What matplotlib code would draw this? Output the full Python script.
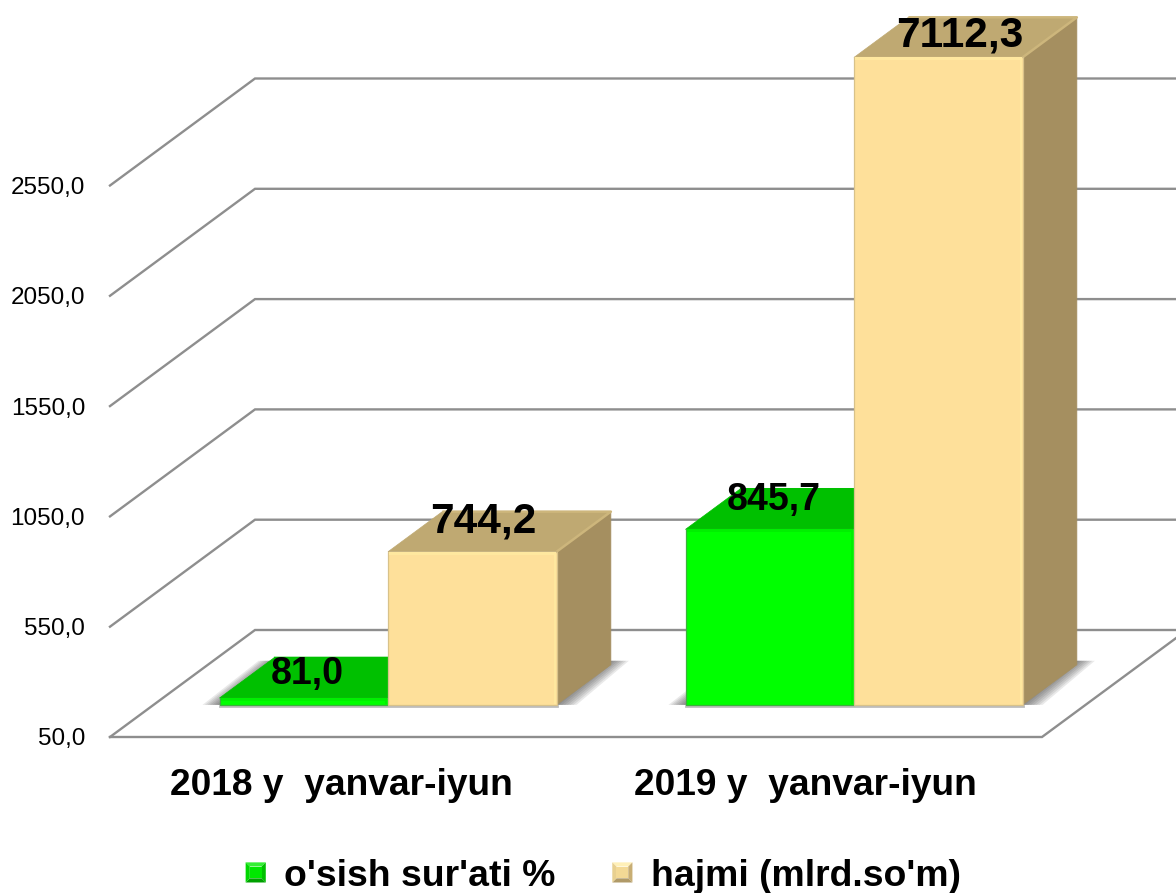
import matplotlib
matplotlib.use("Agg")
import matplotlib.pyplot as plt
from matplotlib.legend_handler import HandlerBase
from matplotlib.patches import Patch, Polygon

plt.rcParams['font.family'] = ['Liberation Sans', 'DejaVu Sans']

# ---- data ----
categories = ["2018 y  yanvar-iyun", "2019 y  yanvar-iyun"]
growth_rate = [81.0, 845.7]
volume = [744.2, 7112.3]
growth_labels = ["81,0", "845,7"]
volume_labels = ["744,2", "7112,3"]
y_ticks = [50, 550, 1050, 1550, 2050, 2550]
y_tick_labels = ["50,0", "550,0", "1050,0", "1550,0", "2050,0", "2550,0"]
series_names = ["o'sish sur'ati %", "hajmi (mlrd.so'm)"]

# ---- layout ----
W, H = 1176, 893
X0, X1 = 110, 1042           # floor front edge, px
Y0 = 737                     # floor front edge, px
PX_PER_UNIT = 0.2206
Y_MIN, Y_MAX = 50, 3050
BAR_CLIP = 2985              # the value axis cuts taller bars here
PX_PER_CAT = (X1 - X0) / 2
DEPTH_DX = 145 / PX_PER_CAT  # full floor depth in x data units
DEPTH_DY = 107 / PX_PER_UNIT # full floor depth in y data units
BAR_FRONT, BAR_BACK = 0.30, 0.675
BAR_W = 168.5 / PX_PER_CAT
GROUP_SHIFT = 1.5 / PX_PER_CAT
px = 1 / PX_PER_CAT
py = 1 / PX_PER_UNIT
XTICK_SHIFT_PX = (-1.5, -3.5)

# px offsets of the value labels from the top centre of each bar's front face
growth_offsets = [(3, 24), (4, 29)]
volume_offsets = [(11, 30), (22, 22)]

GREEN = dict(front="#00FF00", top="#00C000", side="#00A000", band="#00F000", edge="#3DB03D", rim="#00C000")
TAN = dict(front="#FEE09A", top="#BFA972", side="#A58F60", band="#FFE89F", edge="#D8C28A", rim="#CDB67C")
GRID = "#8E8E8E"

fig = plt.figure(figsize=(W / 100, H / 100), dpi=100, facecolor="white")
ax = fig.add_axes([X0 / W, (H - Y0) / H, (X1 - X0) / W, (Y_MAX - Y_MIN) * PX_PER_UNIT / H])
ax.set_xlim(-0.5, 1.5)
ax.set_ylim(Y_MIN, Y_MAX)
ax.patch.set_visible(False)
for s in ax.spines.values():
    s.set_visible(False)


def proj(x, v, d):
    """Floor/depth projection: data point at fractional depth d."""
    return x + d * DEPTH_DX, v + d * DEPTH_DY


# ---- grid, back wall and floor ----
back_right = 1.5 + DEPTH_DX
for v in y_ticks:
    xs = [-0.5, -0.5 + DEPTH_DX, back_right]
    ys = [v, v + DEPTH_DY, v + DEPTH_DY]
    ax.plot(xs, ys, color=GRID, lw=1.7, clip_on=False, zorder=1, solid_joinstyle="miter")
ax.plot([-0.5, 1.5, back_right], [Y_MIN, Y_MIN, Y_MIN + DEPTH_DY],
        color=GRID, lw=1.7, clip_on=False, zorder=1, solid_joinstyle="miter")

ax.set_xticks([i + XTICK_SHIFT_PX[i] * px for i in range(len(categories))], categories,
              fontsize=26.7, fontweight="bold")
ax.set_yticks(y_ticks, y_tick_labels, fontsize=17.5)
ax.tick_params(axis="y", length=0, pad=18)
ax.tick_params(axis="x", length=0, pad=22.5)


def shadow(x_a, x_b, dx, dy, direction, width):
    """Soft floor shadow: strips leaving the bar's floor edge, fading outward."""
    base_v = Y_MIN + BAR_FRONT * DEPTH_DY
    n = 7
    for k in range(1, n + 1):
        w = direction * width * k / n * px
        ax.add_patch(Polygon([(x_a, base_v), (x_b + w, base_v),
                              (x_b + dx + w * 0.9, base_v + dy + 4 * py),
                              (x_a + dx, base_v + dy + 4 * py)],
                             closed=True, fc="#3A3A3A", ec="none", alpha=0.11,
                             clip_on=False, zorder=2))


def draw_bar(x_left, value, colors, zorder):
    top = min(value, BAR_CLIP)
    x_right = x_left + BAR_W
    ax.bar(x_left, top - Y_MIN, width=BAR_W, bottom=proj(0, Y_MIN, BAR_FRONT)[1],
           align="edge", color=colors["front"], edgecolor=colors["edge"], linewidth=0.9,
           clip_on=False, zorder=zorder + 0.2)
    top_v = top + BAR_FRONT * DEPTH_DY
    depth = BAR_BACK - BAR_FRONT
    dx, dy = depth * DEPTH_DX, depth * DEPTH_DY
    ax.add_patch(Polygon([(x_left, top_v), (x_right, top_v), (x_right + dx, top_v + dy),
                          (x_left + dx, top_v + dy)], closed=True, fc=colors["top"],
                         ec=colors["top"], lw=0.5, clip_on=False, zorder=zorder))
    base_v = Y_MIN + BAR_FRONT * DEPTH_DY
    ax.add_patch(Polygon([(x_right, base_v), (x_right, top_v), (x_right + dx, top_v + dy),
                          (x_right + dx, base_v + dy)], closed=True, fc=colors["side"],
                         ec=colors["side"], lw=0.5, clip_on=False, zorder=zorder + 0.1))
    # rim of the top face, along its right and rear edges
    ax.plot([x_right, x_right + dx, x_left + dx], [top_v, top_v + dy, top_v + dy],
            color=colors["rim"], lw=1.8, clip_on=False, zorder=zorder + 0.15,
            solid_capstyle="butt")
    # bevel highlight along top edge and right edge of the front face
    band_y = min(3 * py, (top - Y_MIN) * 0.6)
    ax.fill_between([x_left + px, x_right - px], top_v - band_y, top_v, color=colors["band"],
                    lw=0, clip_on=False, zorder=zorder + 0.3)
    ax.fill_between([x_right - 3 * px, x_right - px], base_v + 1 * py, top_v, color=colors["band"],
                    lw=0, clip_on=False, zorder=zorder + 0.3)
    return top_v


base_v = Y_MIN + BAR_FRONT * DEPTH_DY
for i, (g, t) in enumerate(zip(growth_rate, volume)):
    gx = proj(i, 0, BAR_FRONT)[0] - BAR_W + GROUP_SHIFT
    tx = gx + BAR_W
    rx = tx + BAR_W
    depth = BAR_BACK - BAR_FRONT
    dx, dy = depth * DEPTH_DX, depth * DEPTH_DY
    # floor shadows: left of the green bar and right of the tan bar
    shadow(gx + 3 * px, gx, dx, dy, -1, 17)
    shadow(rx - 3 * px, rx, dx, dy, 1, 20)
    # soft contact line under the bars
    ax.plot([gx, rx], [base_v - 1.4 * py] * 2, color="#BDBDBD", lw=2, clip_on=False, zorder=2.5)

    g_top = draw_bar(gx, g, GREEN, 3)
    t_top = draw_bar(tx, t, TAN, 4)

    ax.annotate(growth_labels[i], (gx + BAR_W / 2, g_top), xycoords="data",
                xytext=(growth_offsets[i][0] * 0.72, growth_offsets[i][1] * 0.72),
                textcoords="offset points", ha="center", va="center", fontsize=27,
                fontweight="bold", color="black", zorder=8, annotation_clip=False)
    ax.annotate(volume_labels[i], (tx + BAR_W / 2, t_top), xycoords="data",
                xytext=(volume_offsets[i][0] * 0.72, volume_offsets[i][1] * 0.72),
                textcoords="offset points", ha="center", va="center", fontsize=30.5,
                fontweight="bold", color="black", zorder=8, annotation_clip=False)


class BevelHandler(HandlerBase):
    """Legend key drawn as a small bevelled square."""

    def __init__(self, shades):
        super().__init__()
        self.shades = shades

    def create_artists(self, legend, orig_handle, xdescent, ydescent, width, height, fontsize, trans):
        s = 14.5
        x0 = -xdescent + (width - s) / 2
        y0 = -ydescent + (height - s) / 2
        x1, y1 = x0 + s, y0 + s
        b = 3.0
        ox0, oy0, ox1, oy1 = x0 + b, y0 + b, x1 - b, y1 - b
        top, right, bottom, left, centre = self.shades
        faces = [
            ([(x0, y1), (x1, y1), (ox1, oy1), (ox0, oy1)], top),
            ([(x1, y1), (x1, y0), (ox1, oy0), (ox1, oy1)], right),
            ([(x0, y0), (x1, y0), (ox1, oy0), (ox0, oy0)], bottom),
            ([(x0, y0), (x0, y1), (ox0, oy1), (ox0, oy0)], left),
            ([(ox0, oy0), (ox1, oy0), (ox1, oy1), (ox0, oy1)], centre),
        ]
        return [Polygon(p, closed=True, fc=c, ec="none", transform=trans) for p, c in faces]


h_green = Patch(color=GREEN["front"], label=series_names[0])
h_tan = Patch(color=TAN["front"], label=series_names[1])
fig.legend(handles=[h_green, h_tan], ncol=2, frameon=False,
           loc="center", bbox_to_anchor=(603 / W, (H - 876) / H),
           prop={"weight": "bold", "size": 26.9},
           handler_map={
               h_green: BevelHandler(("#33EE33", "#00C000", "#00A000", "#00D800", "#00E800")),
               h_tan: BevelHandler(("#FFF0B8", "#C8AE74", "#B09A68", "#E8D090", "#F3D995")),
           },
           handlelength=0.55, handletextpad=0.48, columnspacing=1.52)

fig.savefig("out.png", dpi=100, facecolor="white")
